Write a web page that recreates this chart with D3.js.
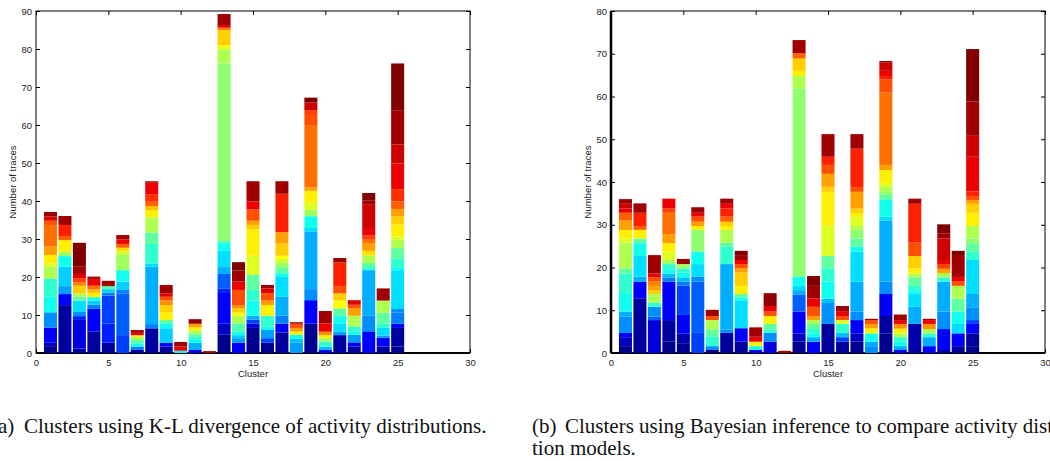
<!DOCTYPE html>
<html>
<head>
<meta charset="utf-8">
<script src="https://cdn.jsdelivr.net/npm/d3@7"></script>
<style>
  body { margin: 0; background: #fff; }
  svg { display: block; }
  .tick text, .lbl { font-family: "Liberation Sans", Arial, sans-serif; font-size: 9.5px; fill: #222; }
  .cap { font-family: "Liberation Serif", "Times New Roman", serif; font-size: 21px; fill: #111; }
</style>
</head>
<body>
<svg id="chart" width="1050" height="461"></svg>
<script>
// one entry per cluster 1..25; each segment is [jet colour index 0-63, count at top of segment], bottom to top
const klBars = [
  [[0,1.8],[3,2.7],[7,6.7],[16,10.7],[24,14.8],[26,19.6],[34,22.7],[37,23.6],[40,25.8],[45,28.0],[48,33.7],[50,34.8],[57,35.9],[61,37.1]],
  [[1,12.6],[7,15.5],[17,17.6],[20,22.7],[24,25.5],[33,26.7],[40,29.7],[49,30.8],[53,33.7],[61,36.05]],
  [[1,1.2],[5,8.7],[9,9.7],[16,10.8],[21,13.8],[29,14.8],[34,15.7],[42,17.7],[47,18.6],[51,19.6],[57,20.8],[61,22.7],[63,29.0]],
  [[1,5.7],[7,11.6],[15,12.7],[20,13.8],[24,14.7],[40,15.8],[43,16.7],[48,17.7],[56,19.5],[61,20.1]],
  [[1,2.7],[9,7.8],[11,15.1],[15,15.9],[20,16.8],[28,17.6],[61,19.0]],
  [[11,4.7],[13,15.7],[15,16.6],[20,18.8],[24,21.8],[33,25.8],[36,26.7],[41,27.7],[49,28.7],[56,29.9],[61,31.05]],
  [[1,0.8],[15,1.7],[24,2.5],[28,3.4],[34,4.3],[41,4.7],[56,5.3],[61,6.05]],
  [[1,6.5],[15,7.6],[18,22.7],[21,23.6],[26,28.7],[29,31.7],[34,35.7],[40,37.6],[43,38.7],[49,39.8],[52,41.8],[56,44.8],[61,45.2]],
  [[1,1.7],[7,2.7],[20,6.5],[24,7.8],[29,8.7],[40,10.7],[42,12.6],[46,13.8],[50,14.8],[57,15.7],[61,17.9]],
  [[23,0.6],[56,1.7],[61,2.9]],
  [[6,0.8],[18,2.7],[23,3.5],[26,4.4],[29,5.1],[34,6.0],[40,6.8],[45,7.7],[62,8.9]],
  [[61,0.5]],
  [[0,4.8],[3,7.7],[7,15.8],[9,16.9],[13,20.8],[18,22.6],[21,26.9],[24,28.9],[29,29.7],[32,76.2],[34,79.9],[38,81.05],[42,85.0],[47,85.6],[57,86.3],[61,89.2]],
  [[7,2.7],[17,3.9],[20,4.7],[24,5.6],[28,7.8],[34,9.7],[38,10.6],[42,11.75],[46,12.6],[50,16.6],[56,18.8],[61,21.7],[63,23.9]],
  [[0,6.6],[5,7.7],[11,8.8],[18,9.8],[24,13.8],[26,16.6],[29,20.6],[37,25.6],[40,32.6],[42,33.7],[45,34.8],[50,37.8],[56,39.9],[61,45.2]],
  [[0,2.7],[11,3.9],[17,6.05],[24,6.9],[26,9.8],[40,12.6],[45,13.8],[50,15.7],[57,17.0],[61,17.9]],
  [[1,5.4],[7,7.7],[15,9.8],[18,14.9],[21,20.0],[24,21.0],[29,22.6],[33,23.7],[36,24.7],[39,25.6],[42,28.8],[45,31.8],[53,41.9],[61,45.2]],
  [[17,2.8],[19,3.7],[24,4.8],[40,5.7],[45,6.6],[50,7.7],[61,8.1]],
  [[0,7.7],[7,13.9],[16,16.8],[18,32.0],[21,32.9],[24,36.0],[33,37.7],[37,39.5],[40,42.7],[45,43.6],[48,60.0],[50,62.9],[51,63.9],[58,65.9],[63,67.2]],
  [[7,0.8],[19,1.7],[26,3.0],[33,3.9],[40,4.7],[46,5.6],[56,7.8],[61,11.05]],
  [[1,4.7],[17,5.6],[21,7.8],[24,9.7],[29,11.75],[39,13.8],[42,15.7],[50,17.6],[53,23.8],[61,25.0]],
  [[1,1.75],[7,2.8],[17,4.8],[24,5.7],[26,7.0],[34,9.8],[45,11.8],[50,12.7],[57,13.9]],
  [[7,5.7],[16,9.8],[18,21.8],[26,22.6],[29,23.7],[34,25.6],[41,26.9],[45,28.8],[48,29.8],[51,30.9],[56,32.9],[58,39.0],[61,40.2],[63,42.1]],
  [[1,1.7],[7,4.0],[17,4.6],[21,6.6],[26,7.8],[29,10.6],[34,13.8],[61,17.0]],
  [[0,1.7],[1,6.6],[7,7.7],[15,10.7],[16,11.6],[21,21.8],[24,22.6],[26,24.8],[29,27.6],[34,29.8],[37,30.7],[40,33.8],[42,36.0],[45,37.9],[49,39.9],[52,43.1],[56,49.9],[58,54.9],[61,63.9],[63,76.2]]
];

const bayesBars = [
  [[0,1.6],[3,3.7],[7,4.7],[16,8.5],[18,9.7],[24,14.0],[26,18.6],[29,19.8],[34,25.8],[37,26.8],[40,28.8],[45,31.0],[49,32.8],[56,33.8],[58,34.9],[61,36.0]],
  [[1,12.8],[7,16.7],[18,17.9],[21,22.7],[24,25.7],[29,26.8],[40,28.8],[49,29.7],[53,32.8],[61,35.0]],
  [[5,7.7],[13,8.5],[16,10.8],[26,11.8],[34,13.8],[42,14.7],[45,15.7],[47,16.7],[50,17.7],[56,18.6],[61,22.9]],
  [[0,2.65],[1,7.7],[7,16.7],[15,17.7],[19,18.6],[24,19.6],[26,20.8],[33,21.8],[37,23.7],[40,25.7],[45,27.8],[48,32.8],[51,33.8],[56,36.1]],
  [[0,2.3],[2,4.6],[7,8.9],[11,15.8],[15,16.7],[19,17.7],[24,18.8],[26,19.8],[33,20.8],[61,22.0]],
  [[11,4.7],[13,16.7],[16,17.9],[21,20.8],[24,23.7],[32,28.8],[40,29.7],[45,30.7],[50,31.9],[56,32.8],[61,34.1]],
  [[0,0.7],[16,1.6],[26,3.8],[29,5.5],[34,7.7],[50,8.65],[61,10.1]],
  [[1,4.7],[16,5.5],[18,20.8],[26,24.9],[29,25.8],[34,28.8],[40,29.7],[42,30.7],[49,31.9],[53,33.8],[56,34.9],[61,36.1]],
  [[1,2.65],[7,5.8],[21,12.2],[24,13.0],[29,13.8],[40,15.7],[42,18.8],[45,19.8],[50,20.8],[56,21.75],[61,22.9],[63,23.9]],
  [[7,0.7],[24,1.6],[40,2.65],[56,3.8],[61,6.0]],
  [[5,2.65],[16,4.7],[26,5.5],[29,6.8],[40,8.65],[50,9.7],[56,11.0],[62,14.0]],
  [[61,0.5]],
  [[0,2.65],[3,4.6],[7,9.7],[13,13.7],[18,14.7],[21,15.7],[24,17.9],[32,61.9],[34,64.8],[40,66.0],[42,68.9],[49,70.1],[61,73.2]],
  [[7,2.65],[18,3.7],[24,4.6],[26,5.6],[29,6.8],[34,7.7],[45,8.65],[50,10.8],[56,12.8],[61,15.7],[63,18.0]],
  [[1,6.8],[16,11.7],[19,12.7],[24,16.7],[26,19.8],[29,22.7],[37,29.8],[40,37.7],[42,38.9],[45,41.9],[50,44.0],[53,45.9],[61,51.2]],
  [[1,2.65],[11,3.7],[19,4.7],[26,6.8],[37,7.7],[50,8.65],[56,9.8],[61,11.0]],
  [[0,2.65],[3,4.6],[7,7.7],[16,9.7],[18,16.7],[21,23.7],[24,24.9],[29,26.8],[32,28.8],[34,29.7],[37,31.7],[40,32.7],[42,33.8],[45,37.7],[50,38.8],[53,47.8],[61,51.2]],
  [[16,1.6],[18,2.65],[24,4.6],[40,5.8],[45,6.8],[50,7.7],[61,8.0]],
  [[0,4.6],[1,8.65],[7,13.8],[16,16.7],[18,31.0],[21,31.9],[24,35.8],[29,37.0],[32,37.7],[34,38.9],[37,39.8],[40,42.8],[45,44.0],[48,60.9],[50,64.0],[53,64.8],[56,66.0],[58,67.9],[61,68.3]],
  [[7,0.7],[18,1.6],[24,2.65],[26,3.7],[34,4.6],[40,5.7],[46,6.8],[56,7.7],[61,9.0]],
  [[2,6.8],[18,10.8],[21,13.8],[24,14.7],[26,15.7],[29,17.7],[34,18.6],[40,19.8],[42,22.7],[50,25.8],[53,34.9],[61,36.1]],
  [[7,1.6],[18,3.7],[26,4.6],[34,5.6],[46,6.8],[56,7.7],[61,8.0]],
  [[1,0.7],[7,5.6],[16,9.7],[18,16.7],[26,17.7],[34,18.7],[45,19.7],[51,20.8],[56,21.75],[58,26.8],[61,28.0],[63,30.1]],
  [[1,1.6],[7,4.6],[21,6.8],[24,9.7],[29,12.7],[34,15.7],[50,16.7],[56,17.8],[61,22.7],[63,23.9]],
  [[0,1.6],[1,4.6],[7,6.8],[11,7.7],[16,10.7],[18,13.8],[21,21.75],[26,23.7],[29,25.7],[32,26.8],[34,29.7],[40,32.8],[42,34.9],[45,35.8],[50,36.7],[53,37.8],[56,45.9],[58,50.8],[61,58.8],[63,71.1]]
];

const clusterTicks = [0, 5, 10, 15, 20, 25, 30];
const klTicks = [0, 10, 20, 30, 40, 50, 60, 70, 80, 90];
const bayesTicks = [0, 10, 20, 30, 40, 50, 60, 70, 80];
const xLabel = "Cluster";
const yLabel = "Number of traces";
const captionA = ["(a)", "Clusters using K-L divergence of activity distributions."];
const captionB = ["(b)", "Clusters using Bayesian inference to compare activity distribu-", "tion models."];

// MATLAB jet(64)
const jet = d3.scaleLinear()
  .domain([0, 7, 23, 39, 55, 63])
  .range(["#00008f", "#0000ff", "#00ffff", "#ffff00", "#ff0000", "#800000"]);

const svg = d3.select("#chart");

function drawPanel(bars, yMax, yTicks, left, thick) {
  const top = 11, bottom = 353, w = 434;
  const x = d3.scaleLinear().domain([0, 30]).range([left, left + w]);
  const y = d3.scaleLinear().domain([0, yMax]).range([bottom, top]);
  const g = svg.append("g");

  g.append("g")
      .attr("transform", `translate(0,${bottom})`)
    .call(d3.axisBottom(x).tickValues(clusterTicks).tickSizeInner(-4).tickSizeOuter(0).tickPadding(6))
    .call(a => a.select(".domain").remove());

  g.append("g")
      .attr("transform", `translate(0,${top})`)
    .call(d3.axisTop(x).tickValues(clusterTicks).tickSizeInner(-4).tickSizeOuter(0).tickFormat(""))
    .call(a => a.select(".domain").remove());

  g.append("g")
      .attr("transform", `translate(${left},0)`)
    .call(d3.axisLeft(y).tickValues(yTicks).tickSizeInner(-4).tickSizeOuter(0).tickPadding(4))
    .call(a => a.select(".domain").remove());

  g.append("g")
      .attr("transform", `translate(${left + w},0)`)
    .call(d3.axisRight(y).tickValues(yTicks).tickSizeInner(-4).tickSizeOuter(0).tickFormat(""))
    .call(a => a.select(".domain").remove());

  g.selectAll(".tick line").attr("stroke", "#000");

  g.append("rect")
      .attr("x", left)
      .attr("y", top)
      .attr("width", w)
      .attr("height", bottom - top)
      .attr("fill", "none")
      .attr("stroke", "#000")
      .attr("stroke-width", 1);

  g.append("line")
      .attr("x1", left).attr("x2", left + w)
      .attr("y1", bottom).attr("y2", bottom)
      .attr("stroke", "#000")
      .attr("stroke-width", 2);

  if (thick) {
    g.append("line")
        .attr("x1", left).attr("x2", left)
        .attr("y1", top).attr("y2", bottom)
        .attr("stroke", "#000")
        .attr("stroke-width", 2.5);
  }

  const segs = bars.flatMap((bar, i) => bar.map((s, j) => ({
    cluster: i + 1,
    c: s[0],
    y0: j ? bar[j - 1][1] : 0,
    y1: s[1]
  })));

  g.append("g")
    .selectAll("rect")
    .data(segs)
    .join("rect")
      .attr("x", d => x(d.cluster - 0.45))
      .attr("width", x(0.9) - x(0))
      .attr("y", d => y(d.y1))
      .attr("height", d => y(d.y0) - y(d.y1))
      .attr("fill", d => jet(d.c));

  g.append("text")
      .attr("class", "lbl")
      .attr("x", left + w / 2)
      .attr("y", 376.5)
      .attr("text-anchor", "middle")
      .text(xLabel);

  g.append("text")
      .attr("class", "lbl")
      .attr("transform", `translate(${left - 20},${(top + bottom) / 2}) rotate(-90)`)
      .attr("text-anchor", "middle")
      .text(yLabel);
}

drawPanel(klBars, 90, klTicks, 36, false);
drawPanel(bayesBars, 80, bayesTicks, 611, true);

function caption(lines, x) {
  svg.append("text").attr("class", "cap").attr("x", x).attr("y", 433).text(lines[0]);
  svg.append("text").attr("class", "cap").attr("x", x + 33).attr("y", 433).text(lines[1]);
  if (lines[2]) svg.append("text").attr("class", "cap").attr("x", x).attr("y", 455).text(lines[2]);
}

caption(captionA, -9);
caption(captionB, 532);
</script>
</body>
</html>
